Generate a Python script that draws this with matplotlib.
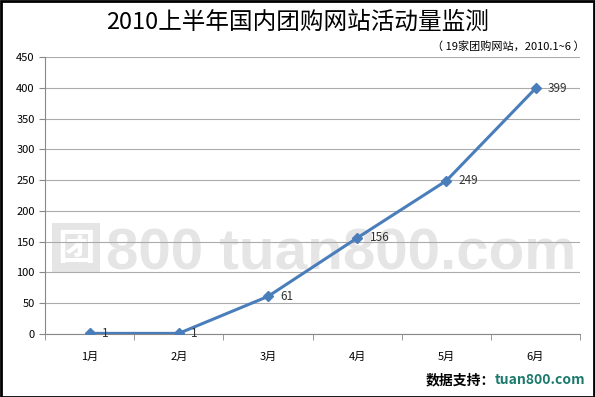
import matplotlib.pyplot as plt
from matplotlib.patches import Rectangle

plt.rcParams['font.family'] = ['Noto Sans CJK SC', 'DejaVu Sans']

months = ['1月', '2月', '3月', '4月', '5月', '6月']
activity = [1, 1, 61, 156, 249, 399]
y_ticks = [0, 50, 100, 150, 200, 250, 300, 350, 400, 450]

fig = plt.figure(figsize=(5.95, 3.97), dpi=100)
ax = fig.add_axes([0.0756, 0.1587, 0.8994, 0.6977])

# watermark sits under the axes (gridlines go over it)
fig.patches.append(Rectangle((0.0874, 0.3123), 0.0807, 0.126, transform=fig.transFigure,
                             facecolor='#e5e5e5', edgecolor='none', zorder=-2))
fig.text(0.1277, 0.375, '团', ha='center', va='center', fontsize=27, color='white',
         weight='bold', zorder=-1)
fig.text(0.178, 0.3199, '800 tuan800.com', ha='left', va='baseline', fontsize=42,
         color='#e5e5e5', weight='bold', family=['Liberation Sans'], zorder=-1)

x = list(range(len(months)))
ax.patch.set_alpha(0)
ax.plot(x, activity, color='#4a7ebb', lw=2.2, marker='D', markersize=5.5, zorder=3)
for xi, v in zip(x, activity):
    ax.annotate(str(v), (xi, v), xytext=(9, 0), textcoords='offset points',
                ha='left', va='center', fontsize=8.5, color='#333333')

ax.set_xlim(-0.5, 5.5)
ax.set_ylim(0, 450)
ax.set_yticks(y_ticks)
ax.set_xticks(x)
ax.set_xticklabels(months)
ax.set_xticks([i - 0.5 for i in range(7)], minor=True)
ax.tick_params(axis='x', which='major', length=0, pad=13, labelsize=8)
ax.tick_params(axis='x', which='minor', length=4, color='#888888')
ax.tick_params(axis='y', length=4, color='#888888', labelsize=8)
ax.grid(axis='y', color='#ababab', lw=0.8)
ax.set_axisbelow(True)
for s in ['top', 'right']:
    ax.spines[s].set_visible(False)
for s in ['left', 'bottom']:
    ax.spines[s].set_color('#888888')

fig.text(0.5, 0.943, '2010上半年国内团购网站活动量监测', ha='center', va='center', fontsize=17)
fig.text(0.983, 0.884, '（ 19家团购网站，2010.1~6 ）', ha='right', va='center', fontsize=8)

# credit line: teal site name at the right edge, black lead-in before it
site = fig.text(0.984, 0.043, 'tuan800.com', ha='right', va='center', fontsize=10,
                weight='bold', color='#1b7a6c')
fig.canvas.draw()
bb = site.get_window_extent().transformed(fig.transFigure.inverted())
fig.text(bb.x0, 0.043, '数据支持：', ha='right', va='center', fontsize=10, weight='bold')

fig.patches.append(Rectangle((0.001, 0.001), 0.997, 0.996, transform=fig.transFigure,
                             facecolor='none', edgecolor='black', lw=2, zorder=10))

fig.savefig('out.png', dpi=100)
